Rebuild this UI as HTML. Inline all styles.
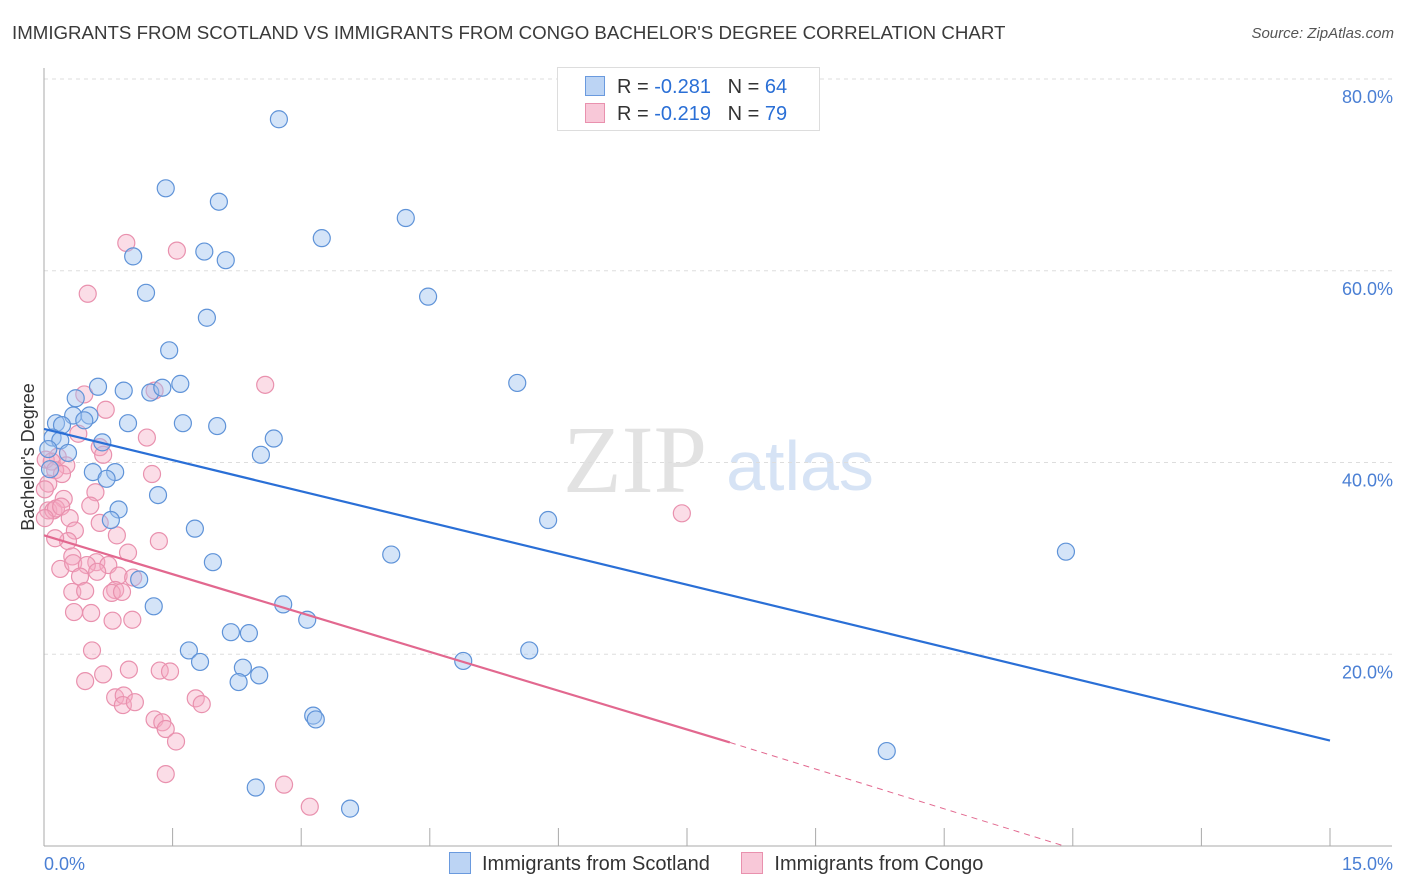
<!DOCTYPE html>
<html><head><meta charset="utf-8"><style>
body{margin:0;background:#fff;font-family:"Liberation Sans",sans-serif}
#c{position:relative;width:1406px;height:892px;overflow:hidden}
</style></head><body>
<div id="c">
<div style="position:absolute;left:12px;top:22px;font-size:18.7px;color:#3a3a3a;white-space:nowrap">IMMIGRANTS FROM SCOTLAND VS IMMIGRANTS FROM CONGO BACHELOR'S DEGREE CORRELATION CHART</div>
<div style="position:absolute;right:12px;top:25px;font-size:15px;font-style:italic;color:#555">Source: ZipAtlas.com</div>
<svg id="s" width="1406" height="892" style="position:absolute;left:0;top:0"></svg>
</div>
<script>
const yTicks=[20,40,60,80];
const yTickLabels=["20.0%","40.0%","60.0%","80.0%"];
const xEndLabels=["0.0%","15.0%"];
const blueX=[2.74,1.42,2.04,4.22,3.24,1.04,1.87,2.12,1.19,4.48,1.90,1.46,0.63,1.59,0.93,1.24,1.38,5.52,0.37,0.34,0.53,0.47,0.14,0.21,0.98,1.62,2.02,0.10,0.19,0.68,2.68,0.28,2.53,0.57,0.83,0.73,0.87,1.33,0.78,5.88,1.76,4.05,11.92,1.97,1.11,2.79,1.28,3.07,2.18,2.39,1.69,1.82,4.89,5.66,2.32,2.27,2.51,3.14,3.17,9.83,2.47,3.57,0.05,0.07];
const blueY=[75.8,68.6,67.2,65.5,63.4,61.5,62.0,61.1,57.7,57.3,55.1,51.7,47.9,48.2,47.5,47.3,47.8,48.3,46.7,44.9,44.9,44.4,44.1,43.9,44.1,44.1,43.8,42.6,42.3,42.1,42.5,41.0,40.8,39.0,39.0,38.3,35.1,36.6,34.0,34.0,33.1,30.4,30.7,29.6,27.8,25.2,25.0,23.6,22.3,22.2,20.4,19.2,19.3,20.4,18.6,17.1,17.8,13.6,13.2,9.9,6.1,3.9,41.4,39.3];
const pinkX=[0.96,1.55,0.51,2.58,1.29,0.47,0.72,0.40,1.20,0.65,0.69,0.16,0.02,0.09,0.26,0.13,0.21,0.05,0.60,0.23,1.26,0.54,0.05,0.11,0.14,0.20,0.30,0.01,0.65,0.36,0.85,0.98,1.34,0.28,0.33,0.61,0.19,0.34,0.50,0.75,0.42,0.62,0.87,1.04,0.83,0.33,0.48,0.79,0.91,0.35,0.55,0.80,1.03,0.56,0.48,0.69,0.99,1.35,1.47,0.83,0.93,0.92,1.06,1.77,1.84,1.29,1.38,1.42,1.54,1.42,2.80,3.10,7.44,0.13,0.01];
const pinkY=[62.9,62.1,57.6,48.1,47.5,47.1,45.5,43.0,42.6,41.6,40.8,40.6,40.3,40.1,39.7,39.2,38.8,37.8,36.9,36.2,38.8,35.5,35.0,35.0,35.2,35.4,34.2,34.2,33.7,32.9,32.4,30.6,31.8,31.8,30.2,29.6,28.9,29.5,29.3,29.3,28.1,28.6,28.2,28.0,26.7,26.5,26.6,26.4,26.5,24.4,24.3,23.5,23.6,20.4,17.2,17.9,18.4,18.3,18.2,15.5,15.7,14.7,15.0,15.4,14.8,13.2,12.9,12.2,10.9,7.5,6.4,4.1,34.7,32.1,37.2];
const blueLine=[0,43.5,15,11.0];
const pinkLine=[0,32.4,8.0,10.8,11.9,0];

const NS="http://www.w3.org/2000/svg",s=document.getElementById('s');
const X0=44,X1=1330,Y0=846,Y80=79;
const xs=v=>X0+v/15*(X1-X0), ys=v=>Y0-v/80*(Y0-Y80);
function el(t,a,p){const e=document.createElementNS(NS,t);for(const k in a)e.setAttribute(k,a[k]);(p||s).appendChild(e);return e;}
let w=el('text',{x:635,y:492,'font-size':96,'font-family':'Liberation Serif,serif',fill:'#e2e2e2','text-anchor':'middle'});w.textContent='ZIP';

let w2=el('text',{x:800,y:490,'font-size':70,'font-family':'Liberation Sans,sans-serif',fill:'#d6e3f5','text-anchor':'middle'});w2.textContent='atlas';

yTicks.forEach((t,i)=>{const g=el('line',{x1:X0,x2:1392,y1:ys(t),y2:ys(t),stroke:'#ddd','stroke-dasharray':'4,4'});

const l=el('text',{x:1393,y:ys(t)+24,'font-size':18,fill:'#4a7fd4','text-anchor':'end'});l.textContent=yTickLabels[i];
});
let ax=el('line',{x1:X0,x2:X0,y1:68,y2:Y0,stroke:'#aaa'});
let bx=el('line',{x1:X0,x2:1392,y1:Y0,y2:Y0,stroke:'#aaa'});
for(let i=0;i<=10;i++){const t=el('line',{x1:xs(i*1.5),x2:xs(i*1.5),y1:828,y2:Y0,stroke:'#aaa'});}
let xl=el('text',{x:44,y:870,'font-size':18,fill:'#4a7fd4'});xl.textContent=xEndLabels[0];
let xr=el('text',{x:1393,y:870,'font-size':18,fill:'#4a7fd4','text-anchor':'end'});xr.textContent=xEndLabels[1];
let yt=el('text',{x:34,y:457,'font-size':18,fill:'#333','text-anchor':'middle',transform:'rotate(-90 34 457)'});yt.textContent="Bachelor's Degree";

pinkX.forEach((x,i)=>{const c=el('circle',{cx:xs(x),cy:ys(pinkY[i]),r:8.5,fill:'rgba(244,170,195,0.4)',stroke:'#e991ae','stroke-width':1.2});
});
blueX.forEach((x,i)=>{const c=el('circle',{cx:xs(x),cy:ys(blueY[i]),r:8.5,fill:'rgba(160,196,240,0.45)',stroke:'#5f93d8','stroke-width':1.2});
});
let bl=el('line',{x1:xs(blueLine[0]),y1:ys(blueLine[1]),x2:xs(blueLine[2]),y2:ys(blueLine[3]),stroke:'#2a6fd6','stroke-width':2.2});

let pl=el('line',{x1:xs(pinkLine[0]),y1:ys(pinkLine[1]),x2:xs(pinkLine[2]),y2:ys(pinkLine[3]),stroke:'#e2688f','stroke-width':2.2});

let pd=el('line',{x1:xs(pinkLine[2]),y1:ys(pinkLine[3]),x2:xs(pinkLine[4]),y2:ys(pinkLine[5]),stroke:'#e2688f','stroke-width':1,'stroke-dasharray':'6,5'});

</script>
<div style="position:absolute;left:557px;top:67px;width:261px;height:62px;border:1px solid #ddd;background:#fff;font-size:20px;color:#333">
 <div style="position:absolute;left:27px;top:8px;white-space:nowrap"><span style="display:inline-block;width:18px;height:18px;background:#bcd4f4;border:1px solid #6a9ade;vertical-align:-3px;margin-right:12px"></span>R = <span style="color:#2a6fd6">-0.281</span>&nbsp;&nbsp;&nbsp;N = <span style="color:#2a6fd6">64</span></div>
 <div style="position:absolute;left:27px;top:35px;white-space:nowrap"><span style="display:inline-block;width:18px;height:18px;background:#f8c8d8;border:1px solid #e991ae;vertical-align:-3px;margin-right:12px"></span>R = <span style="color:#2a6fd6">-0.219</span>&nbsp;&nbsp;&nbsp;N = <span style="color:#2a6fd6">79</span></div>
</div>
<div style="position:absolute;left:449px;top:852px;font-size:20px;color:#333;white-space:nowrap">
 <span><span style="display:inline-block;width:20px;height:20px;background:#bcd4f4;border:1px solid #6a9ade;vertical-align:-4px;margin-right:11px"></span>Immigrants from Scotland</span>
 <span style="margin-left:26px"><span style="display:inline-block;width:20px;height:20px;background:#f8c8d8;border:1px solid #e991ae;vertical-align:-4px;margin-right:11px"></span>Immigrants from Congo</span>
</div>
</body></html>
